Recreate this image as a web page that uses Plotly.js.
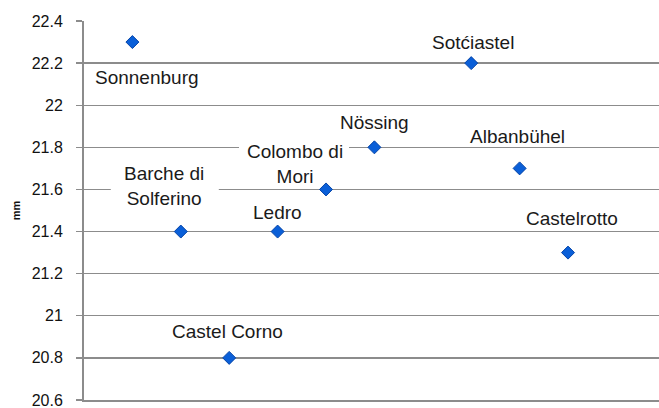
<!DOCTYPE html>
<html>
<head>
<meta charset="utf-8">
<script src="https://cdn.plot.ly/plotly-3.0.1.min.js"></script>
<style>html,body{margin:0;padding:0;background:#fff;}#chart{width:659px;height:408px;}</style>
</head>
<body>
<div id="chart"></div>
<script>
// Data
const sites = ["Sonnenburg", "Barche di<br>Solferino", "Castel Corno", "Ledro", "Colombo di<br>Mori", "Nössing", "Sotćiastel", "Albanbühel", "Castelrotto"];
const xIndex = [1, 2, 3, 4, 5, 6, 8, 9, 10];
const values = [22.3, 21.4, 20.8, 21.4, 21.6, 21.8, 22.2, 21.7, 21.3];
const yTicks = [20.6, 20.8, 21, 21.2, 21.4, 21.6, 21.8, 22, 22.2, 22.4];
const yTickText = ["20.6", "20.8", "21", "21.2", "21.4", "21.6", "21.8", "22", "22.2", "22.4"];

// Label placement (pixel offsets from each point)
const labelShiftX = [15, -17, -2, 0, -31, 0, 2, -2, 4];
const labelShiftY = [-35, 46, 26, 19, 25, 25, 21, 32, 34];
// white masks behind two-line labels where a gridline runs through them: [x0, x1, y0, y1] px relative to point, or null
const labelMask = [null, [-70, 38, 36, 48], null, null, [-87, 23, 36, 48], null, null, null, null];

const trace = {
  type: "scatter",
  mode: "markers",
  x: xIndex,
  y: values,
  marker: {symbol: "diamond", size: 10, color: "#0a5fd8", line: {color: "#0645a8", width: 1}},
  hoverinfo: "skip",
  cliponaxis: false
};

const annotations = sites.map((s, i) => ({
  x: xIndex[i], y: values[i], xref: "x", yref: "y",
  text: s, showarrow: false,
  xanchor: "center", yanchor: "middle",
  xshift: labelShiftX[i], yshift: labelShiftY[i],
  font: {family: "Liberation Sans, Arial, sans-serif", size: 19, color: "#1a1a1a"}
}));

const shapes = sites.map((s, i) => labelMask[i] === null ? null : ({
  type: "rect", layer: "between",
  xref: "x", yref: "y", xsizemode: "pixel", ysizemode: "pixel",
  xanchor: xIndex[i], yanchor: values[i],
  x0: labelMask[i][0], x1: labelMask[i][1],
  y0: labelMask[i][2], y1: labelMask[i][3],
  fillcolor: "#ffffff", line: {width: 0}
})).filter(Boolean);

const layout = {
  width: 659, height: 408,
  margin: {l: 84, r: 0, t: 21, b: 8},
  paper_bgcolor: "#ffffff", plot_bgcolor: "#ffffff",
  showlegend: false,
  xaxis: {
    range: [0, 11.88], showgrid: false, zeroline: false, showticklabels: false,
    ticks: "", showline: true, linecolor: "#8c8c8c", linewidth: 1.5, fixedrange: true
  },
  yaxis: {
    range: [20.6, 22.4], tickvals: yTicks, ticktext: yTickText,
    showgrid: true, gridcolor: "#8c8c8c", gridwidth: 1.3, zeroline: false,
    showline: true, linecolor: "#8c8c8c", linewidth: 2,
    ticks: "outside", ticklen: 6, tickcolor: "#8c8c8c", tickwidth: 1.3,
    ticklabelstandoff: 10, ticklabeloverflow: "allow",
    tickfont: {family: "Liberation Sans, Arial, sans-serif", size: 16, color: "#111111"},
    title: {text: "mm", standoff: 9, font: {family: "Liberation Sans, Arial, sans-serif", size: 11, color: "#111111", weight: "bold"}},
    fixedrange: true
  },
  shapes: shapes,
  annotations: annotations
};

Plotly.newPlot("chart", [trace], layout, {displayModeBar: false, staticPlot: true});
</script>
</body>
</html>
